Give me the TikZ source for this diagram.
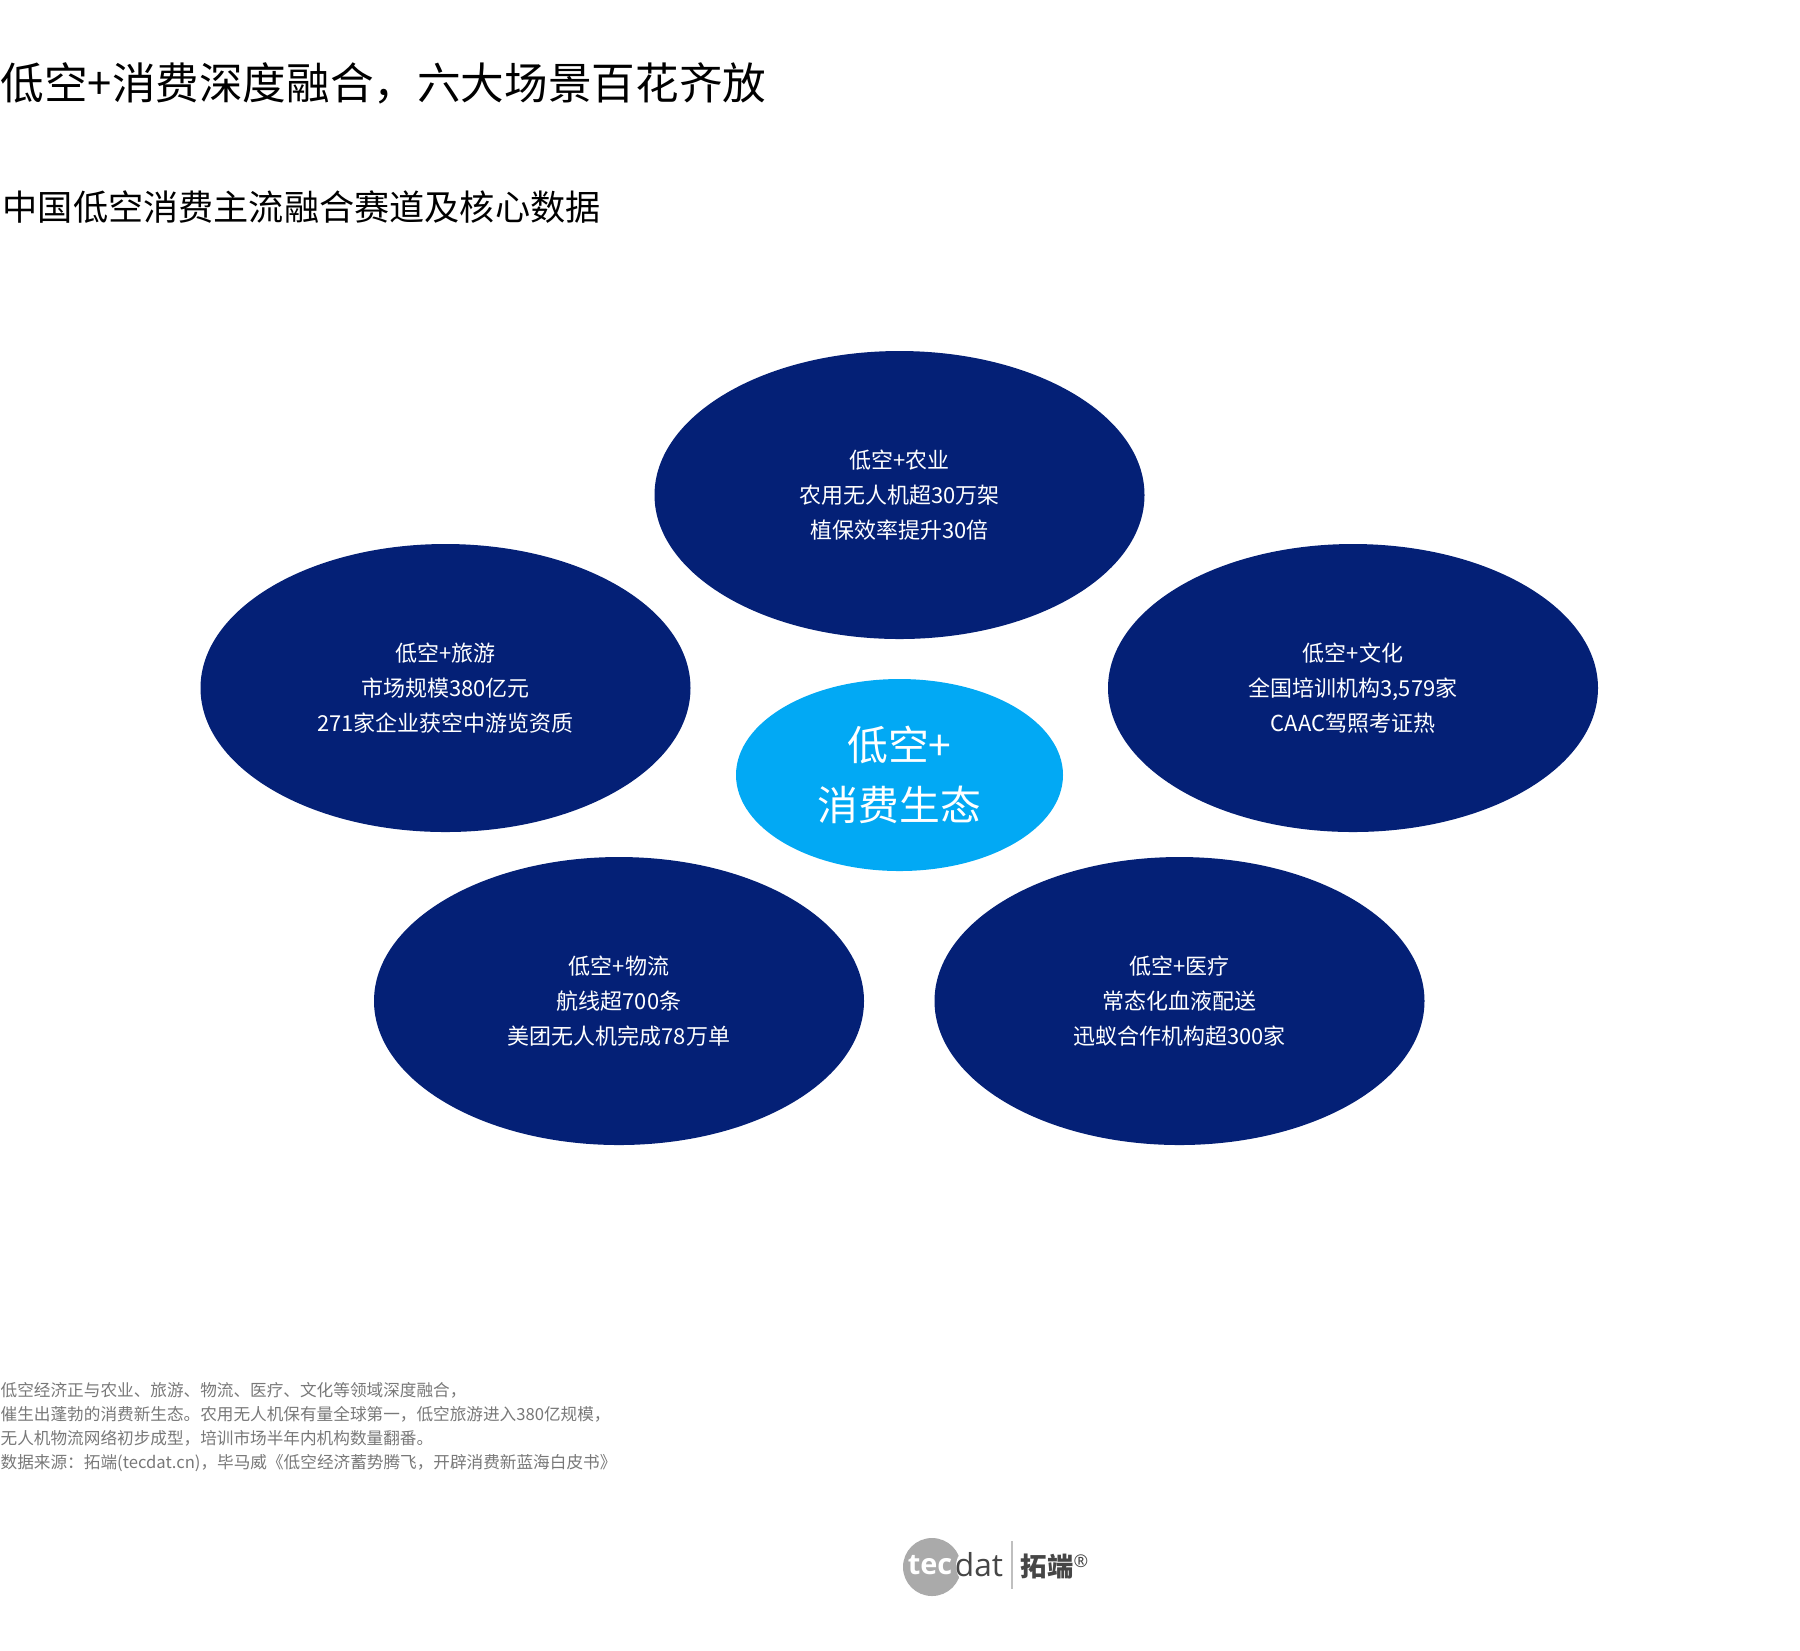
\documentclass[tikz,border=0pt]{standalone}
\usepackage{fontspec}
\setmainfont{Noto Sans CJK SC}
\newfontfamily\logofont{Open Sans}
\usetikzlibrary{shapes.geometric}
\definecolor{navyblue}{RGB}{4,32,118}
\definecolor{skyblue}{RGB}{2,169,244}
\definecolor{notegray}{RGB}{120,120,120}
\definecolor{logogray}{RGB}{170,170,170}
\definecolor{logodark}{RGB}{70,70,70}

\begin{document}
\begin{tikzpicture}[x=0.01cm,y=-0.01cm,
    scene/.style={ellipse,fill=navyblue,text=white,minimum width=490*0.01cm,minimum height=288*0.01cm,inner sep=0pt,align=center,
        font=\fontsize{6.25pt}{9.95pt}\selectfont},
    hub/.style={ellipse,fill=skyblue,text=white,minimum width=327*0.01cm,minimum height=192*0.01cm,inner sep=0pt,align=center,
        font=\fontsize{11.6pt}{17pt}\selectfont},
    heading/.style={anchor=west,inner sep=0pt}]
    \useasboundingbox (0,0) rectangle (1800,1650);

    % Draw titles
    \node[heading,font=\fontsize{12.4pt}{15pt}\selectfont] (title) at (0,83) {低空+消费深度融合，六大场景百花齐放};
    \node[heading,font=\fontsize{10pt}{12pt}\selectfont] (subtitle) at (2,207) {中国低空消费主流融合赛道及核心数据};

    % Draw ellipses
    \node[scene] (farm) at (899.5,495) {低空+农业\\农用无人机超30万架\\植保效率提升30倍};
    \node[scene] (tour) at (445.5,688) {低空+旅游\\市场规模380亿元\\271家企业获空中游览资质};
    \node[scene] (culture) at (1353,688) {低空+文化\\全国培训机构3,579家\\CAAC驾照考证热};
    \node[scene] (freight) at (619,1001) {低空+物流\\航线超700条\\美团无人机完成78万单};
    \node[scene] (medical) at (1179.5,1001) {低空+医疗\\常态化血液配送\\迅蚁合作机构超300家};
    \node[hub] (center) at (899.5,775) {低空+\\消费生态};

    % Draw footnote
    \node[heading,text=notegray,align=left,font=\fontsize{4.73pt}{6.83pt}\selectfont] (note) at (0,1427) {低空经济正与农业、旅游、物流、医疗、文化等领域深度融合，\\催生出蓬勃的消费新生态。农用无人机保有量全球第一，低空旅游进入380亿规模，\\无人机物流网络初步成型，培训市场半年内机构数量翻番。\\数据来源：拓端(tecdat.cn)，毕马威《低空经济蓄势腾飞，开辟消费新蓝海白皮书》};

    % Draw logo
    \fill[logogray] (932,1567) circle (29);
    \fill[white] (977,1566) circle (21);
    \draw[lightgray,line width=0.4pt] (1012,1541) -- (1012,1589);
    \node[inner sep=0pt,text=white,font=\logofont\fontsize{8.2pt}{10pt}\selectfont\bfseries] (logotec) at (930,1565) {tec};
    \node[inner sep=0pt,text=logodark,font=\logofont\fontsize{9pt}{10pt}\selectfont] (logodat) at (979,1565) {dat};
    \node[inner sep=0pt,text=logodark,font=\fontsize{7.5pt}{8pt}\selectfont\bfseries] (logoname) at (1047,1566) {拓端};
    \node[inner sep=0pt,text=logodark,font=\logofont\fontsize{5pt}{5pt}\selectfont] (logomark) at (1081,1561) {®};
\end{tikzpicture}
\end{document}
